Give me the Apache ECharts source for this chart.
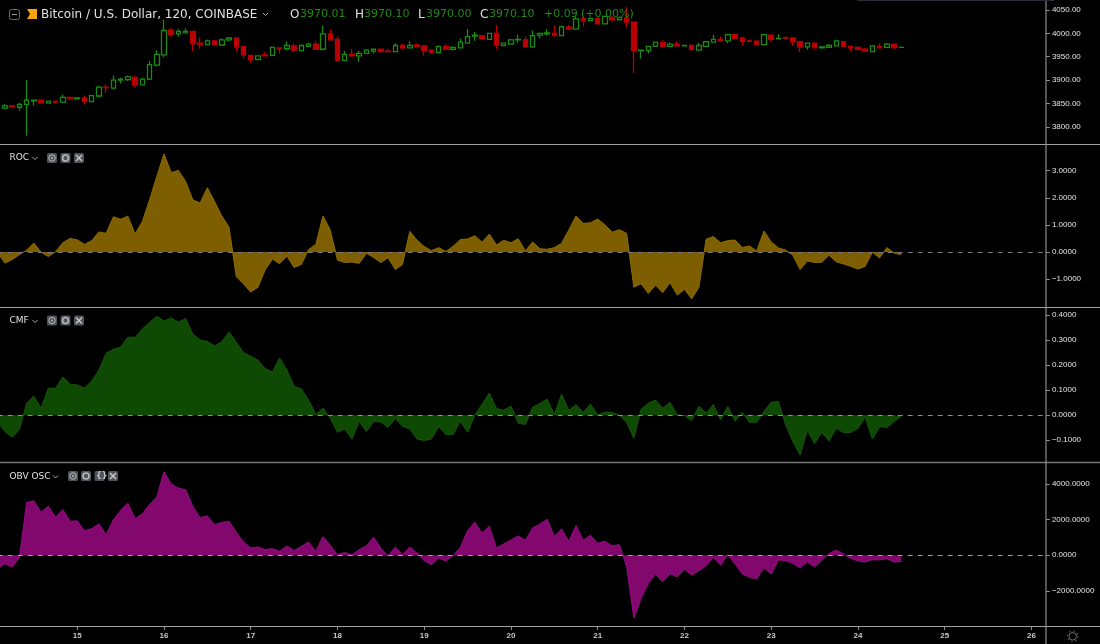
<!DOCTYPE html>
<html>
<head>
<meta charset="utf-8">
<style>
  html, body { margin: 0; padding: 0; background: #000; }
  #chart { width: 1100px; height: 644px; }
</style>
<script src="https://cdn.jsdelivr.net/npm/echarts@6/dist/echarts.min.js"></script>
</head>
<body>
<div id="chart"></div>
<script>
// day labels under the chart, one every 12 bars (2h bars)
const dayLabels = ['15', '16', '17', '18', '19', '20', '21', '22', '23', '24', '25', '26']

// candles from bar 1 to bar 125, bar 0 sits off the left edge
const candleOpen = [
  3840, 3845, 3842, 3848, 3855.5, 3857, 3851, 3855, 3853, 3863,
  3860, 3862, 3854, 3866, 3885, 3883, 3900, 3901, 3906, 3890,
  3902, 3932, 3954, 4007, 3999, 4001, 4004, 3979, 3976, 3984,
  3975, 3986, 3990, 3972, 3953, 3944, 3954, 3953, 3969, 3967,
  3973, 3963, 3972, 3977, 3966, 3999, 3987, 3942, 3955, 3952,
  3957, 3962, 3966, 3962, 3961, 3974, 3969, 3975, 3973, 3964,
  3959, 3972, 3966, 3969, 3979, 3994, 3995, 3987, 4000, 3974,
  3977, 3986, 3986, 3971, 3996, 3999, 4000, 3995, 4013, 4009,
  4032, 4027, 4032, 4020, 4034, 4029, 4033, 4024, 3963, 3963,
  3972, 3980, 3972, 3977, 3973, 3974, 3964, 3972, 3981, 3987,
  3984, 3997, 3990, 3984, 3983, 3976, 3996, 3988, 3991, 3990,
  3982, 3971, 3979, 3969, 3970, 3973, 3982, 3972, 3970, 3966,
  3961, 3972, 3970, 3977, 3970.01
]
const candleClose = [
  3845, 3843, 3848, 3857, 3857, 3852, 3855, 3853, 3863, 3860,
  3862, 3854, 3867, 3885, 3884, 3900, 3902, 3907, 3890, 3902,
  3933, 3955, 4006, 3998, 4004, 4004, 3978, 3976, 3984, 3976,
  3986, 3990, 3971, 3954, 3944, 3952, 3952, 3970, 3967, 3974,
  3964, 3974, 3977, 3966, 3999, 3986, 3942, 3955, 3952, 3957,
  3964, 3966, 3961, 3961, 3974, 3969, 3974, 3972, 3963, 3959,
  3972, 3966, 3970, 3981, 3993, 3996, 3988, 4000, 3975, 3979,
  3986, 3987, 3971, 3995, 4000, 4001, 3995, 4014, 4009, 4031,
  4027, 4032, 4020, 4036, 4029, 4034, 4024, 3963, 3964, 3972,
  3981, 3972, 3977, 3973, 3974, 3965, 3974, 3982, 3987, 3984,
  3997, 3989, 3983, 3983, 3976, 3997, 3987, 3989, 3989, 3982,
  3971, 3979, 3969, 3971, 3974, 3984, 3972, 3969, 3965, 3962,
  3973, 3969, 3977, 3969, 3970.1
]
const candleLow = [
  3838, 3842, 3835, 3781, 3845, 3851, 3850, 3851, 3852, 3858,
  3859.5, 3848, 3853, 3863, 3873, 3880, 3893, 3898, 3885, 3889,
  3900, 3929, 3949, 3993, 3993, 4000, 3962, 3967, 3975, 3975,
  3974, 3983, 3960, 3946, 3937, 3943, 3951, 3952, 3957, 3964,
  3960, 3962, 3971, 3965, 3964, 3985, 3941, 3941, 3951, 3939,
  3956, 3957, 3960, 3960, 3960, 3966, 3968, 3971, 3952, 3956,
  3958, 3964, 3964, 3968, 3978, 3984, 3986, 3986, 3966, 3973,
  3976, 3980, 3970, 3969, 3989, 3995, 3994, 3994, 4007, 4008,
  4014, 4026, 4019, 4019, 4027, 4028, 4012, 3915, 3946, 3957,
  3971, 3971, 3971, 3972, 3972, 3963, 3963, 3971, 3980, 3983,
  3979, 3988, 3975, 3981, 3975, 3975, 3982, 3987, 3987, 3973,
  3960, 3965, 3968, 3968, 3969, 3972, 3971, 3962, 3964, 3961,
  3960, 3968, 3969, 3968, 3970
]
const candleHigh = [
  3849, 3846, 3851, 3900, 3858, 3858, 3856, 3855.5, 3869, 3865,
  3863, 3867, 3868, 3888, 3891, 3910, 3905, 3910, 3908, 3905,
  3941, 3964, 4029, 4011, 4009, 4011, 4005, 3991, 3987, 3986,
  3989, 3992, 3991, 3972.5, 3954, 3953, 3960, 3971, 3970, 3983,
  3978, 3976, 3980, 3984, 4016, 4007, 3994, 3962, 3966, 3962,
  3966, 3967, 3967, 3967, 3979, 3977, 3983, 3978, 3974, 3966,
  3974, 3977, 3972, 3989, 4009, 4003, 3997, 4001, 4018, 3980,
  3988, 3997, 3994, 4006, 4001, 4009, 4017, 4016, 4018, 4036,
  4036, 4034, 4034, 4037, 4037, 4036, 4056, 4024.5, 3964, 3972.5,
  3981.5, 3985, 3980, 3983, 3975, 3976, 3980, 3984, 3997, 3993,
  3999, 3998, 3991, 3986, 3984, 3999, 3998, 3998, 3994, 3991,
  3984, 3979.5, 3979.5, 3971, 3977, 3986, 3982.5, 3973, 3972, 3969,
  3975, 3979, 3979.5, 3978, 3970.1
]

// indicators from bar 0 to bar 125
const rocValues = [
  -0.02, -0.41, -0.28, -0.1, 0.07, 0.33, -0.01, -0.17, 0.01, 0.34,
  0.5, 0.45, 0.28, 0.42, 0.74, 0.69, 1.3, 1.21, 1.32, 0.66,
  1.12, 1.92, 2.78, 3.62, 2.93, 3.01, 2.6, 1.92, 1.81, 2.37,
  1.86, 1.33, 0.91, -0.91, -1.18, -1.48, -1.3, -0.66, -0.26, -0.43,
  -0.15, -0.57, -0.46, 0.09, 0.28, 1.33, 0.81, -0.3, -0.39, -0.37,
  -0.42, -0.05, -0.2, -0.39, -0.21, -0.65, -0.46, 0.76, 0.44, 0.2,
  0.05, 0.16, 0.02, 0.21, 0.46, 0.48, 0.6, 0.36, 0.66, 0.26,
  0.43, 0.34, 0.49, 0.04, 0.37, 0.12, 0.1, 0.16, 0.32, 0.81,
  1.33, 1.05, 1.08, 1.22, 1.0, 0.73, 0.82, 0.69, -1.3, -1.17,
  -1.53, -1.22, -1.5, -1.13, -1.59, -1.38, -1.73, -1.3, 0.47, 0.57,
  0.34, 0.42, 0.44, 0.17, 0.22, 0.04, 0.77, 0.37, 0.15, 0.07,
  -0.12, -0.65, -0.33, -0.39, -0.38, -0.12, -0.36, -0.44, -0.53, -0.63,
  -0.53, -0.01, -0.22, 0.16, -0.04, -0.1
]
const cmfValues = [
  -0.028, -0.065, -0.088, -0.056, 0.048, 0.077, 0.028, 0.108, 0.108, 0.153,
  0.124, 0.121, 0.109, 0.137, 0.181, 0.248, 0.264, 0.273, 0.312, 0.312,
  0.345, 0.371, 0.396, 0.377, 0.389, 0.372, 0.387, 0.324, 0.301, 0.295,
  0.277, 0.295, 0.333, 0.292, 0.251, 0.236, 0.22, 0.187, 0.173, 0.229,
  0.181, 0.116, 0.105, 0.061, 0.003, 0.029, -0.012, -0.068, -0.055, -0.096,
  -0.025, -0.065, -0.024, -0.027, -0.049, -0.013, -0.044, -0.055, -0.095, -0.101,
  -0.095, -0.045, -0.077, -0.077, -0.024, -0.068, 0.001, 0.044, 0.089, 0.027,
  0.02, 0.037, -0.031, -0.037, 0.033, 0.047, 0.065, 0.003, 0.084, 0.019,
  0.043, 0.012, 0.045, 0.001, 0.013, 0.011, 0, -0.028, -0.092, 0.024,
  0.048, 0.061, 0.028, 0.052, 0.001, -0.001, -0.021, 0.036, 0.008, 0.043,
  -0.019, 0.036, -0.024, 0.011, -0.028, -0.028, 0.015, 0.052, 0.055, -0.039,
  -0.105, -0.159, -0.059, -0.113, -0.069, -0.103, -0.052, -0.069, -0.069, -0.052,
  -0.008, -0.095, -0.045, -0.049, -0.025, -0.003
]
const obvValues = [
  -770, -470, -657, -131, 2967, 3061, 2423, 2761, 2141, 2573,
  1916, 1934, 1371, 1502, 1765, 1164, 1991, 2517, 2930, 2047,
  2329, 2855, 3268, 4695, 4000, 3775, 3681, 2742, 2103, 2216,
  1709, 1840, 1916, 1296, 751, 413, 470, 319, 376, 225,
  526, 263, 507, 751, 225, 1052, 563, 19, 169, 19,
  319, 526, 1014, 394, -38, 470, 19, 470, 131, -300,
  -526, -150, -319, -19, 451, 1390, 1859, 1239, 1634, 413,
  639, 864, 1089, 845, 1540, 1747, 2028, 1052, 1484, 770,
  1671, 845, 1127, 676, 789, 526, 601, -639, -3531, -2423,
  -1578, -1070, -1484, -1033, -1221, -789, -1108, -864, -582, -113,
  -563, 38, -488, -1052, -1239, -1315, -695, -1052, -263, -300,
  -451, -714, -357, -657, -282, 94, 300, 75, -169, -319,
  -376, -244, -263, -188, -376, -338
]

// tick labels on the right hand price scales
const priceTicks = [3800, 3850, 3900, 3950, 4000, 4050]
const rocTicks = [-1, 0, 1, 2, 3]
const cmfTicks = [-0.1, 0, 0.1, 0.2, 0.3, 0.4]
const obvTicks = [-2000, 0, 2000, 4000]

const barCount = 146
const barsPerDay = 12
const firstDayBar = 11
const lineGray = '#a0a0a0'
const axisGray = '#8c8c8c'
const iconGray = '#50535c'

const categories = []
for (let i = 0; i < barCount; i++) {
  const d = (i - firstDayBar) / barsPerDay
  categories.push(Number.isInteger(d) && d >= 0 ? dayLabels[d] : '')
}
const isDayBar = (i, name) => name !== ''

const candleData = [['-', '-', '-', '-']]
candleOpen.forEach((o, i) => {
  candleData.push([o, candleClose[i], candleLow[i], candleHigh[i]])
})

const panels = [
  { top: 0, bottom: 144.5, min: 3762.4, max: 4071.2, ticks: priceTicks, digits: 2 },
  { top: 145, bottom: 307, min: -2.03, max: 3.948, ticks: rocTicks, digits: 4 },
  { top: 308, bottom: 462, min: -0.187, max: 0.429, ticks: cmfTicks, digits: 4 },
  { top: 463, bottom: 626, min: -3972, max: 5185, ticks: obvTicks, digits: 4 }
]

function areaSeries(index, values, lineColor, fillColor, dashColor) {
  return {
    type: 'line',
    xAxisIndex: index,
    yAxisIndex: index,
    data: values,
    showSymbol: false,
    silent: true,
    lineStyle: { color: lineColor, width: 1 },
    areaStyle: { color: fillColor, opacity: 1, origin: 0 },
    markLine: {
      silent: true,
      symbol: 'none',
      label: { show: false },
      lineStyle: { color: dashColor, type: [5, 5], width: 1 },
      data: [{ yAxis: 0 }]
    }
  }
}

function line(x1, y1, x2, y2, color, width) {
  return {
    type: 'line',
    silent: true,
    shape: { x1, y1, x2, y2 },
    style: { stroke: color, lineWidth: width || 1 },
    z: 20
  }
}

function text(x, y, str, color, font) {
  return {
    type: 'text',
    silent: true,
    x,
    y,
    style: { text: str, fill: color, font, textVerticalAlign: 'middle' },
    z: 30
  }
}

function chevron(x, y) {
  return {
    type: 'polyline',
    silent: true,
    shape: { points: [[x, y], [x + 2.5, y + 2.5], [x + 5, y]] },
    style: { stroke: '#b0b0b0', fill: null, lineWidth: 1 },
    z: 30
  }
}

// the little grey buttons next to the indicator names
function button(x, y, kind) {
  const cx = x + 5
  const cy = y + 5
  const items = [{
    type: 'rect',
    silent: true,
    shape: { x, y, width: 10, height: 10, r: 1.5 },
    style: { fill: iconGray },
    z: 30
  }]
  const mark = { stroke: '#b8b8b8', fill: null, lineWidth: 1 }
  if (kind === 'eye') {
    items.push({ type: 'circle', silent: true, shape: { cx, cy, r: 3.2 }, style: mark, z: 31 })
    items.push({ type: 'circle', silent: true, shape: { cx, cy, r: 1 }, style: { fill: '#b8b8b8' }, z: 31 })
  } else if (kind === 'gear') {
    items.push({ type: 'circle', silent: true, shape: { cx, cy, r: 3 }, style: { stroke: '#b8b8b8', fill: null, lineWidth: 1.6 }, z: 31 })
  } else if (kind === 'code') {
    items.push(text(x + 1.6, cy, '{}', '#c8c8c8', 'bold 8px "DejaVu Sans"'))
  } else {
    items.push(line(x + 2, y + 2, x + 8, y + 8, '#c8c8c8', 1.4))
    items.push(line(x + 8, y + 2, x + 2, y + 8, '#c8c8c8', 1.4))
    items[1].z = 31
    items[2].z = 31
  }
  return items
}

const titleFont = '12px "DejaVu Sans"'
const valueFont = '11px "DejaVu Sans"'
const labelFont = '9px "DejaVu Sans"'
const titleGreen = '#1f8a15'
const titleWhite = '#e0e0e0'

const graphics = [
  // panel separators and the price axis line
  line(0, 144.5, 1100, 144.5, lineGray, 1.2),
  line(0, 307.5, 1100, 307.5, lineGray, 1.2),
  line(0, 462.5, 1100, 462.5, '#777777', 1.6),
  line(0, 626.5, 1100, 626.5, lineGray, 1),
  line(1046, 0, 1046, 644, axisGray, 1.2),
  line(857, 0.5, 1054, 0.5, '#2a2e39', 1),
  // header
  {
    type: 'rect',
    silent: true,
    shape: { x: 9.5, y: 9.5, width: 10, height: 10, r: 2 },
    style: { stroke: '#666a72', fill: null, lineWidth: 1 },
    z: 30
  },
  line(12, 14.5, 17, 14.5, '#9a9a9a', 1),
  {
    type: 'polygon',
    silent: true,
    shape: { points: [[27, 9], [37, 9], [37, 19], [27, 19], [30, 14]] },
    style: { fill: '#f7a30a' },
    z: 30
  },
  text(41, 14.5, 'Bitcoin / U.S. Dollar, 120, COINBASE', titleWhite, titleFont),
  chevron(263, 13),
  text(290, 14.5, 'O', titleWhite, titleFont),
  text(300, 14.5, '3970.01', titleGreen, valueFont),
  text(355, 14.5, 'H', titleWhite, titleFont),
  text(364, 14.5, '3970.10', titleGreen, valueFont),
  text(418, 14.5, 'L', titleWhite, titleFont),
  text(426, 14.5, '3970.00', titleGreen, valueFont),
  text(480, 14.5, 'C', titleWhite, titleFont),
  text(489, 14.5, '3970.10', titleGreen, valueFont),
  text(544, 14.5, '+0.09', titleGreen, valueFont),
  text(581, 14.5, '(+0.00%)', titleGreen, valueFont),
  // indicator names
  text(9.5, 158, 'ROC', titleWhite, labelFont),
  chevron(32.5, 157),
  ...button(47, 153, 'eye'),
  ...button(60.5, 153, 'gear'),
  ...button(74, 153, 'close'),
  text(9.5, 321, 'CMF', titleWhite, labelFont),
  chevron(32.5, 320),
  ...button(47, 315.5, 'eye'),
  ...button(60.5, 315.5, 'gear'),
  ...button(74, 315.5, 'close'),
  text(9.5, 476.5, 'OBV OSC', titleWhite, labelFont),
  chevron(53, 475.5),
  ...button(68, 471, 'eye'),
  ...button(81, 471, 'gear'),
  ...button(94.5, 471, 'code'),
  ...button(108, 471, 'close'),
  // settings wheel in the corner
  {
    type: 'circle',
    silent: true,
    shape: { cx: 1072.7, cy: 636.3, r: 3.8 },
    style: { stroke: '#6a6a6a', fill: null, lineWidth: 1 },
    z: 30
  },
  {
    type: 'circle',
    silent: true,
    shape: { cx: 1072.7, cy: 636.3, r: 5.2 },
    style: { stroke: '#6a6a6a', fill: null, lineWidth: 1.2, lineDash: [1.2, 2.9] },
    z: 30
  }
]

const myChart = echarts.init(document.getElementById('chart'), null, { renderer: 'canvas' })
const option = {
  animation: false,
  backgroundColor: '#000000',
  grid: panels.map(p => ({
    left: -2.27,
    right: 54.1,
    top: p.top,
    height: p.bottom - p.top,
    outerBoundsMode: 'none'
  })),
  xAxis: panels.map((p, i) => ({
    type: 'category',
    gridIndex: i,
    data: categories,
    boundaryGap: false,
    axisLine: { show: false, onZero: false },
    axisTick: {
      show: i === 3,
      interval: isDayBar,
      length: 4,
      lineStyle: { color: axisGray }
    },
    axisLabel: {
      show: i === 3,
      interval: isDayBar,
      margin: 6,
      color: '#c8c8c8',
      fontFamily: 'Liberation Sans',
      fontSize: 8,
      fontWeight: 'bold'
    },
    splitLine: { show: false }
  })),
  yAxis: panels.map((p, i) => ({
    type: 'value',
    gridIndex: i,
    position: 'right',
    min: p.min,
    max: p.max,
    axisLine: { show: false },
    axisTick: {
      show: true,
      length: 4,
      customValues: p.ticks,
      lineStyle: { color: axisGray }
    },
    axisLabel: {
      margin: 6,
      customValues: p.ticks,
      color: '#e4e4e4',
      fontFamily: 'Liberation Sans',
      fontSize: 8,
      formatter: v => v.toFixed(p.digits).replace('-', '\u2212')
    },
    splitLine: { show: false }
  })),
  series: [
    {
      type: 'candlestick',
      xAxisIndex: 0,
      yAxisIndex: 0,
      data: candleData,
      barWidth: 5,
      silent: true,
      itemStyle: {
        color: '#000000',
        color0: '#b80000',
        borderColor: '#1a8a12',
        borderColor0: '#b80000',
        borderWidth: 1.3
      }
    },
    areaSeries(1, rocValues, '#8f6c00', '#7d5e00', '#7a7a82'),
    areaSeries(2, cmfValues, '#14560a', '#0f4a04', '#8e8e8e'),
    areaSeries(3, obvValues, '#960a86', '#82086e', '#a0a0a0')
  ],
  graphic: graphics
}
myChart.setOption(option)
</script>
</body>
</html>
